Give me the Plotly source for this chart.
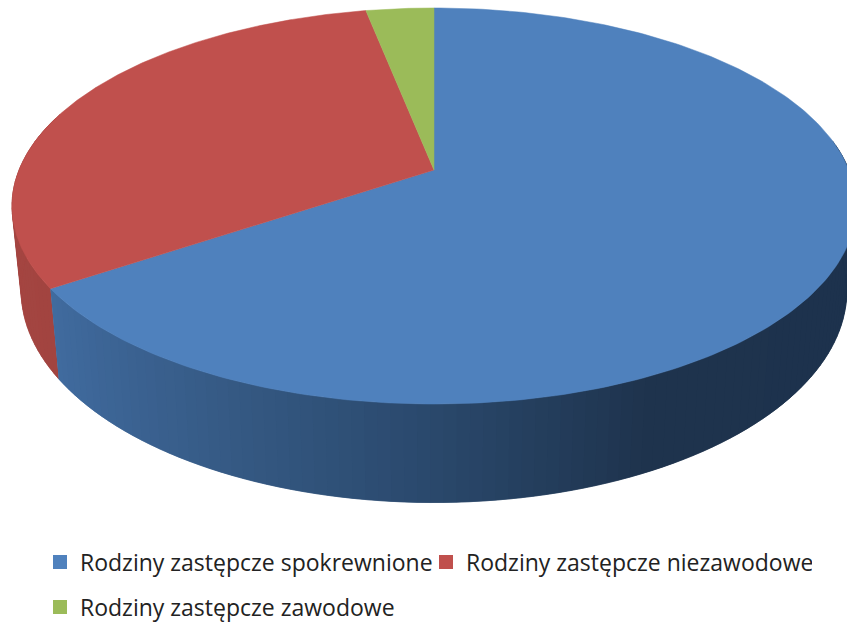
import numpy as np
import plotly.graph_objects as go

categories = ["Rodziny zastępcze spokrewnione", "Rodziny zastępcze niezawodowe", "Rodziny zastępcze zawodowe"]
values = [65.6, 31.3, 3.1]
colors = ["#4f81bd", "#c0504d", "#9bbb59"]

W, H = 847, 650  # taller than the 622 window so the last legend row does not push the margins
CX = 434
TOP = dict(y0=170.0, a=191.5, b=415.0, p=0.1818)
BOT = dict(y0=252.0, a=205.0, b=406.0, p=0.1818)


def project(theta, r, g):
    u = r * np.sin(theta)
    v = -r * np.cos(theta)
    d = 1 - g["p"] * v
    return CX + g["b"] * u / d, g["y0"] + g["a"] * v / d


def lerp_color(t, stops):
    xs = [s[0] for s in stops]
    return "rgb(%d,%d,%d)" % tuple(np.interp(t, xs, [s[1][i] for s in stops]) for i in range(3))


side_stops = {
    0: [(-1, (68, 112, 165)), (-0.83, (65, 108, 160)), (-0.4, (54, 90, 133)), (0, (43, 74, 110)), (0.45, (31, 52, 78)), (1, (29, 50, 77))],
    1: [(-1, (165, 70, 66)), (-0.6, (158, 66, 62))],
}

fractions = np.array(values) / sum(values)
edges = np.concatenate([[0], np.cumsum(fractions)]) * 2 * np.pi

fig = go.Figure()

# wall: overlapping strips, drawn from the left so each one hides the seam of the last
for i in [1, 0]:
    lo, hi = max(edges[i], np.pi * 0.45), min(edges[i + 1], np.pi * 1.6)
    if hi <= lo:
        continue
    n = max(2, int((hi - lo) / np.radians(1.5)))
    th = np.linspace(lo, hi, n + 1)
    if i == 0:
        th = th[::-1]
    for j in range(n):
        a, b = th[j], th[min(j + 1, n)]
        stop = b
        start = th[max(j - 1, 0)]  # reaches back under the strip drawn before
        ax, ay = project(np.array([start, stop]), 1, TOP)
        bx, by = project(np.array([stop, start]), 1, BOT)
        c = lerp_color(np.sin((a + b) / 2), side_stops[i])
        fig.add_trace(go.Scatter(
            x=np.r_[ax, bx], y=np.r_[ay, by], mode="lines", fill="toself", fillcolor=c,
            line=dict(color=c, width=0.5), hoverinfo="skip", showlegend=False))

# top face
for i, name in enumerate(categories):
    th = np.linspace(edges[i], edges[i + 1], 240)
    x, y = project(th, 1, TOP)
    x0, y0 = project(0.0, 0, TOP)
    fig.add_trace(go.Scatter(
        x=np.r_[x0, x, x0], y=np.r_[y0, y, y0], mode="lines", fill="toself", fillcolor=colors[i],
        line=dict(color=colors[i], width=0.5), name=name, hoverinfo="name", showlegend=False))

# legend entries
for i, name in enumerate(categories):
    fig.add_trace(go.Scatter(
        x=[None], y=[None], mode="markers", name=name,
        marker=dict(symbol="square", size=14, color=colors[i]),
        legend="legend2" if i == 2 else "legend"))

leg = dict(
    orientation="h", xanchor="left", yanchor="middle", bgcolor="rgba(0,0,0,0)",
    font=dict(family="Open Sans", size=23, color="#222222"), itemclick=False, itemdoubleclick=False,
    traceorder="normal", borderwidth=0,
)
fig.update_layout(
    width=W, height=H, margin=dict(l=0, r=0, t=0, b=0), autosize=False,
    paper_bgcolor="white", plot_bgcolor="white",
    xaxis=dict(range=[0, W], visible=False, fixedrange=True),
    yaxis=dict(range=[H, 0], visible=False, fixedrange=True),
    legend=dict(leg, x=40 / W, y=1 - 562 / H, entrywidth=341, entrywidthmode="pixels"),
    legend2=dict(leg, x=40 / W, y=1 - 607 / H),
)
fig.write_html("out.html", config=dict(displayModeBar=False),
               post_script="document.body.style.margin='0';document.documentElement.style.overflow='hidden';")
